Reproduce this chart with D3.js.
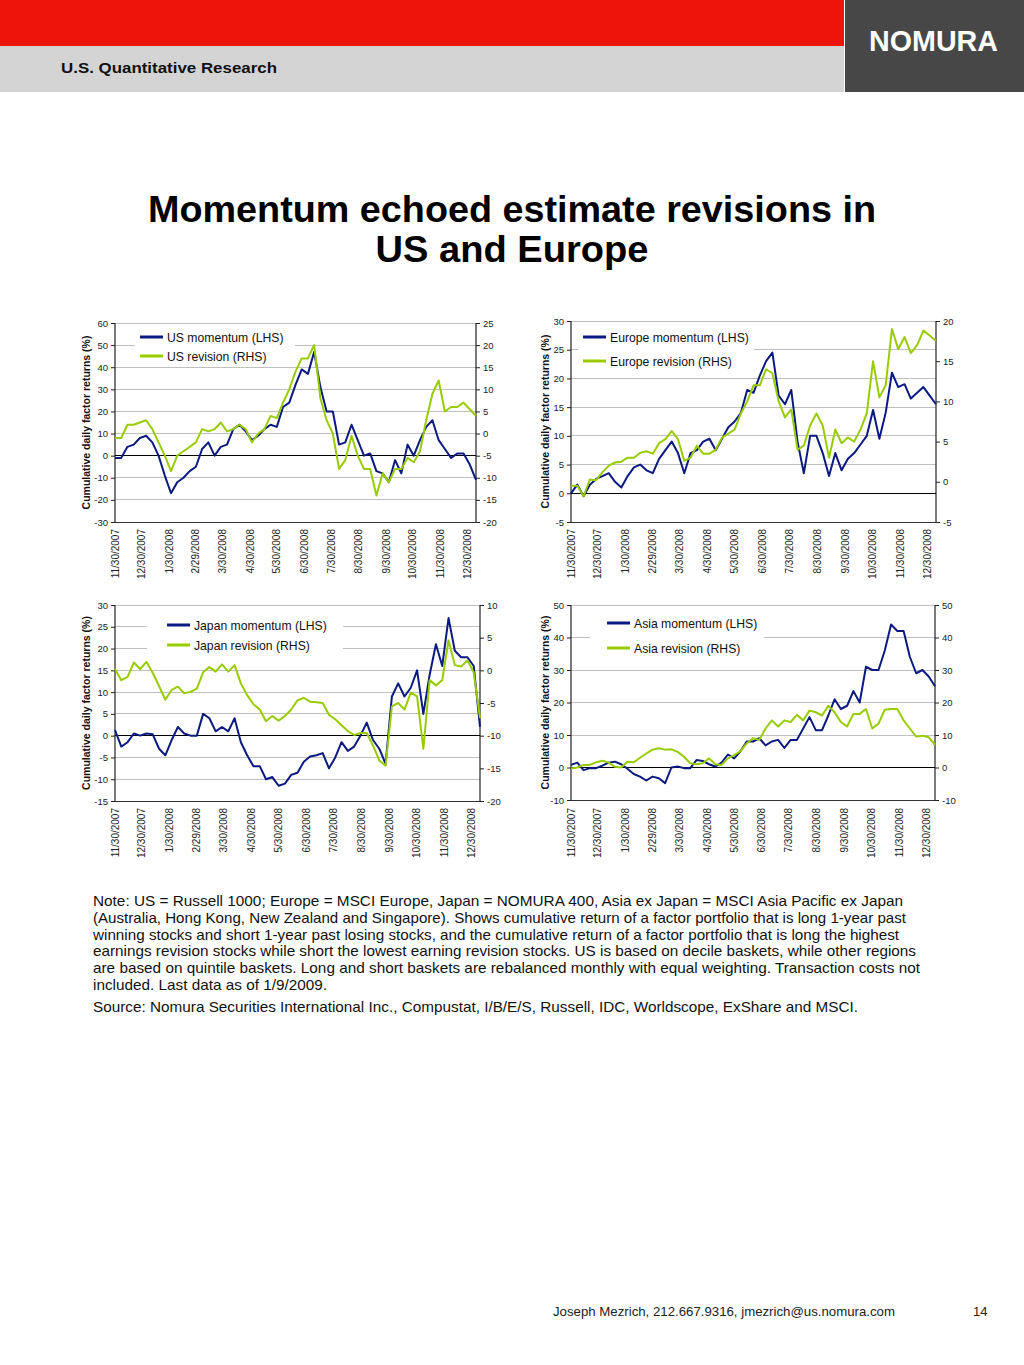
<!DOCTYPE html>
<html>
<head>
<meta charset="utf-8">
<script src="https://cdn.jsdelivr.net/npm/d3@7/dist/d3.min.js"></script>
<style>
  html, body { margin: 0; padding: 0; background: #fff; }
  svg { display: block; }
  text { font-family: "Liberation Sans", Arial, Helvetica, sans-serif; }
</style>
</head>
<body>
<svg id="page" width="1024" height="1365"></svg>
<script>
// ---------------- DATA ----------------
const dates = [
  "2007-11-30","2007-12-07","2007-12-14","2007-12-21","2007-12-28",
  "2008-01-04","2008-01-11","2008-01-18","2008-01-25","2008-02-01",
  "2008-02-08","2008-02-15","2008-02-22","2008-02-29","2008-03-07",
  "2008-03-14","2008-03-21","2008-03-28","2008-04-04","2008-04-11",
  "2008-04-18","2008-04-25","2008-05-02","2008-05-09","2008-05-16",
  "2008-05-23","2008-05-30","2008-06-06","2008-06-13","2008-06-20",
  "2008-06-27","2008-07-04","2008-07-11","2008-07-18","2008-07-25",
  "2008-08-01","2008-08-08","2008-08-15","2008-08-22","2008-08-29",
  "2008-09-05","2008-09-12","2008-09-19","2008-09-26","2008-10-03",
  "2008-10-10","2008-10-17","2008-10-24","2008-10-31","2008-11-07",
  "2008-11-14","2008-11-21","2008-11-28","2008-12-05","2008-12-12",
  "2008-12-19","2008-12-26","2009-01-02","2009-01-09"
];

const dateTickLabels = ["11/30/2007","12/30/2007","1/30/2008","2/29/2008","3/30/2008","4/30/2008",
  "5/30/2008","6/30/2008","7/30/2008","8/30/2008","9/30/2008","10/30/2008","11/30/2008","12/30/2008"];

const usMomentum = [-1,-1,4,5,8,9,6,0,-9,-17,-12,-10,-7,-5,3,6,0,4,5,12,14,11,7,9,12,14,13,22,24,32,39,37,47,31,20,20,5,6,14,7,0,1,-7,-8,-12,-2,-8,5,0,7,13,16,7,3,-1,1,1,-4,-11];
const usRevision = [-1,-1,2,2,2.5,3,1,-2,-5,-8.5,-5,-4,-3,-2,1,0.5,1,2.5,0.5,1,2,1,-2,0,1,4,3.5,7,10,14,17,17,20,8,3,0,-8,-6,-0.5,-5,-8,-8,-14,-9,-11,-8,-8,-5.5,-6.5,-4,3,9,12,5,6,6,7,5.5,4];

const euMomentum = [0,1.5,-0.5,1.5,2.5,3,3.5,2,1,3,4.5,5,4,3.5,6,7.5,9,7,3.5,7,7.5,9,9.5,7.5,9.5,11.5,12.5,14,18,17.5,20.5,23,24.5,17,15.5,18,9,3.5,10,10,7,3,7,4,6,7,8.5,10,14.5,9.5,14,21,18.5,19,16.5,17.5,18.5,17,15.5];
const euRevision = [-0.5,-0.5,-1.8,0.3,0.2,1.2,2,2.4,2.5,3,3,3.6,3.8,3.5,4.8,5.3,6.3,5.3,2.6,3,4.5,3.5,3.5,4,5.5,6,6.5,8.5,10,12,12,14,13.5,10,8,9,4,4.5,7,8.5,7,3,6.5,4.8,5.5,5,6.5,8.5,15,10.5,12,19,16.5,18,16,17,18.8,18.2,17.5];

const jpMomentum = [1.3,-2.5,-1.5,0.5,0,0.5,0.3,-3,-4.5,-1,2,0.5,0,0,5,4,1,2,1,4,-1.5,-4.5,-7,-7,-10,-9.5,-11.5,-11,-9,-8.5,-6,-4.8,-4.5,-4,-7.5,-5,-1.5,-3.5,-2.5,0,3,-1,-3,-6.5,9,12,9,11,15,5,14,21,16,27,19.5,18,18,16,2];
const jpRevision = [0.2,-1.5,-1,1.2,0.2,1.3,-0.4,-2.4,-4.5,-3,-2.5,-3.5,-3.3,-2.8,-0.3,0.5,-0.2,0.9,-0.2,0.8,-2,-3.8,-5.2,-6,-7.8,-7,-7.7,-7,-6,-4.6,-4.2,-4.8,-4.9,-5,-6.8,-7.5,-8.4,-9.3,-9.9,-9.6,-9.6,-11.5,-13.8,-14.6,-5.5,-5,-6,-3.4,-4,-12,-1.5,-2.3,-1.5,4.6,0.8,0.6,1.5,-0.3,-7.3];

const asMomentum = [0.8,1.5,-0.8,-0.2,-0.2,0.6,1.5,1.8,1,-0.4,-2,-2.8,-4,-2.8,-3.3,-4.8,0,0.3,-0.2,-0.2,2.3,2,1,0.3,1.5,4,2.8,5,8,8,9,6.8,8,8.5,6,8.5,8.5,12,15.5,11.5,11.5,16,21,18,19,23.5,20,31,30,30,36,44,42,42,34,29,30,28,25];
const asRevision = [-0.3,0,0.8,0.8,1.6,2.1,1.5,0.2,0,1.8,1.6,3,4.3,5.5,5.9,5.5,5.6,4.8,3.3,1.3,1,1.3,2.8,1,0.8,2.8,3.8,5,7.4,9,8.5,12,14.5,12.6,14.5,14,16.2,14.5,17.5,17,16,19,17,14,12.6,16.5,16.5,18,12,13.5,17.8,18,18,14.5,12,9.5,9.8,9.3,7];

const seriesNames = [
  ["US momentum (LHS)", "US revision (RHS)"],
  ["Europe momentum (LHS)", "Europe revision (RHS)"],
  ["Japan momentum (LHS)", "Japan revision (RHS)"],
  ["Asia momentum (LHS)", "Asia revision (RHS)"]
];

const noteLines = [
  "Note: US = Russell 1000; Europe = MSCI Europe, Japan = NOMURA 400, Asia ex Japan = MSCI Asia Pacific ex Japan",
  "(Australia, Hong Kong, New Zealand and Singapore). Shows cumulative return of a factor portfolio that is long 1-year past",
  "winning stocks and short 1-year past losing stocks, and the cumulative return of a factor portfolio that is long the highest",
  "earnings revision stocks while short the lowest earning revision stocks. US is based on decile baskets, while other regions",
  "are based on quintile baskets. Long and short baskets are rebalanced monthly with equal weighting. Transaction costs not",
  "included. Last data as of 1/9/2009."
];
const sourceLine = "Source: Nomura Securities International Inc., Compustat, I/B/E/S, Russell, IDC, Worldscope, ExShare and MSCI.";

// ---------------- STYLE / LAYOUT ----------------
const NAVY = "#0b1a80", GREEN = "#99cc00", GRID = "#c0c0c0";
const parseISO = d3.timeParse("%Y-%m-%d");
const parseTick = d3.timeParse("%m/%d/%Y");
const dateObjs = dates.map(parseISO);

const noteWidths = [810, 813, 806, 823, 827, 234];

const panels = [
  { mom: usMomentum, rev: usRevision, names: seriesNames[0],
    x0: 115, x1: 476, y0: 323, y1: 522, lDom: [-30, 60], lStep: 10, rDom: [-20, 25], rStep: 5,
    legX: 140, legY: [337, 356], box: [135, 327, 160, 39], titleX: 86, dateY: 529 },
  { mom: euMomentum, rev: euRevision, names: seriesNames[1],
    x0: 571, x1: 936, y0: 321, y1: 522, lDom: [-5, 30], lStep: 5, rDom: [-5, 20], rStep: 5,
    legX: 583, legY: [337, 361], box: [578, 326, 176, 46], titleX: 545, dateY: 529 },
  { mom: jpMomentum, rev: jpRevision, names: seriesNames[2],
    x0: 115, x1: 480, y0: 605, y1: 801, lDom: [-15, 30], lStep: 5, rDom: [-20, 10], rStep: 5,
    legX: 167, legY: [625, 645], box: [147, 613, 196, 43], titleX: 86, dateY: 808 },
  { mom: asMomentum, rev: asRevision, names: seriesNames[3],
    x0: 571, x1: 935, y0: 605, y1: 800, lDom: [-10, 50], lStep: 10, rDom: [-10, 50], rStep: 10,
    legX: 607, legY: [623, 648], box: [590, 611, 174, 49], titleX: 545, dateY: 808 }
];

const svg = d3.select("#page");
svg.append("rect").attr("width", 1024).attr("height", 1365).attr("fill", "#fff");

// ---------------- HEADER ----------------
svg.append("rect").attr("x", 0).attr("y", 0).attr("width", 844).attr("height", 46).attr("fill", "#ee140c");
svg.append("rect").attr("x", 0).attr("y", 46).attr("width", 844).attr("height", 46).attr("fill", "#d4d4d4");
svg.append("rect").attr("x", 845).attr("y", 0).attr("width", 179).attr("height", 92).attr("fill", "#474747");
svg.append("text").attr("x", 61).attr("y", 73).attr("font-size", 15.5).attr("font-weight", "bold")
  .attr("fill", "#111").attr("textLength", 216).attr("lengthAdjust", "spacingAndGlyphs")
  .text("U.S. Quantitative Research");
svg.append("text").attr("x", 869).attr("y", 51).attr("font-size", 30).attr("font-weight", "bold")
  .attr("fill", "#fff").attr("textLength", 129).attr("lengthAdjust", "spacingAndGlyphs").text("NOMURA");

// ---------------- TITLE ----------------
svg.append("text").attr("x", 512).attr("y", 222).attr("text-anchor", "middle")
  .attr("font-size", 36).attr("font-weight", "bold").attr("fill", "#000")
  .attr("textLength", 728).attr("lengthAdjust", "spacingAndGlyphs")
  .text("Momentum echoed estimate revisions in");
svg.append("text").attr("x", 512).attr("y", 262).attr("text-anchor", "middle")
  .attr("font-size", 36).attr("font-weight", "bold").attr("fill", "#000")
  .attr("textLength", 273).attr("lengthAdjust", "spacingAndGlyphs")
  .text("US and Europe");

// ---------------- CHARTS ----------------
const fmt = d => String(d);
panels.forEach(p => {
  const g = svg.append("g");
  const x = d3.scaleTime().domain([parseISO(dates[0]), parseISO(dates[dates.length - 1])]).range([p.x0, p.x1]);
  const yL = d3.scaleLinear().domain(p.lDom).range([p.y1, p.y0]);
  const yR = d3.scaleLinear().domain(p.rDom).range([p.y1, p.y0]);
  const lTicks = d3.range(p.lDom[0], p.lDom[1] + 0.001, p.lStep);
  const rTicks = d3.range(p.rDom[0], p.rDom[1] + 0.001, p.rStep);

  // gridlines
  g.selectAll(".grid").data(lTicks.filter(v => v !== 0)).enter().append("line")
    .attr("x1", p.x0).attr("x2", p.x1).attr("y1", d => yL(d)).attr("y2", d => yL(d))
    .attr("stroke", GRID).attr("stroke-width", 1).attr("shape-rendering", "crispEdges");
  // bottom border
  g.append("line").attr("x1", p.x0).attr("x2", p.x1).attr("y1", p.y1).attr("y2", p.y1)
    .attr("stroke", "#333").attr("stroke-width", 1).attr("shape-rendering", "crispEdges");

  // axes
  const axL = d3.axisLeft(yL).tickValues(lTicks).tickSize(4).tickPadding(3).tickFormat(fmt);
  const gL = g.append("g").attr("transform", `translate(${p.x0},0)`).call(axL);
  const axR = d3.axisRight(yR).tickValues(rTicks).tickSize(4).tickPadding(3).tickFormat(fmt);
  const gR = g.append("g").attr("transform", `translate(${p.x1},0)`).call(axR);
  [gL, gR].forEach(a => {
    a.select(".domain").attr("stroke", "#222").attr("d", null);
    a.selectAll("text").attr("font-size", 9.5).attr("fill", "#222")
      .attr("font-family", '"Liberation Sans", Arial, sans-serif');
    a.selectAll("line").attr("stroke", "#222");
    a.append("line").attr("x1", 0).attr("x2", 0).attr("y1", p.y0).attr("y2", p.y1)
      .attr("stroke", "#222").attr("stroke-width", 1.2);
  });

  // date labels (rotated)
  g.selectAll(".dl").data(dateTickLabels).enter().append("text")
    .attr("transform", d => `translate(${x(parseTick(d)) + 3.5},${p.dateY}) rotate(-90)`)
    .attr("text-anchor", "end").attr("font-size", 10).attr("fill", "#222").text(d => d);

  // y title
  g.append("text").attr("transform", `translate(${p.titleX + 4},${(p.y0 + p.y1) / 2}) rotate(-90)`)
    .attr("text-anchor", "middle").attr("font-size", 10.5).attr("font-weight", "bold").attr("fill", "#111")
    .text("Cumulative daily factor returns (%)");

  // zero line
  g.append("line").attr("x1", p.x0).attr("x2", p.x1).attr("y1", yL(0)).attr("y2", yL(0))
    .attr("stroke", "#000").attr("stroke-width", 1).attr("shape-rendering", "crispEdges");

  // lines
  const momLine = d3.line().x((d, i) => x(dateObjs[i])).y(d => yL(d));
  const revLine = d3.line().x((d, i) => x(dateObjs[i])).y(d => yR(d));
  g.append("path").attr("d", momLine(p.mom)).attr("fill", "none").attr("stroke", NAVY)
    .attr("stroke-width", 2).attr("stroke-linejoin", "round");
  g.append("path").attr("d", revLine(p.rev)).attr("fill", "none").attr("stroke", GREEN)
    .attr("stroke-width", 2).attr("stroke-linejoin", "round");

  // legend
  g.append("rect").attr("x", p.box[0]).attr("y", p.box[1]).attr("width", p.box[2]).attr("height", p.box[3]).attr("fill", "#fff");
  [NAVY, GREEN].forEach((c, i) => {
    g.append("line").attr("x1", p.legX).attr("x2", p.legX + 23).attr("y1", p.legY[i]).attr("y2", p.legY[i])
      .attr("stroke", c).attr("stroke-width", 3);
    g.append("text").attr("x", p.legX + 27).attr("y", p.legY[i] + 4.5).attr("font-size", 12.2).attr("fill", "#111")
      .text(p.names[i]);
  });
});

// ---------------- NOTES ----------------
noteLines.forEach((t, i) => {
  svg.append("text").attr("x", 93).attr("y", 906 + i * 16.75).attr("font-size", 15).attr("fill", "#111")
    .attr("textLength", noteWidths[i]).attr("lengthAdjust", "spacingAndGlyphs").text(t);
});
svg.append("text").attr("x", 93).attr("y", 1012).attr("font-size", 15).attr("fill", "#111")
  .attr("textLength", 765).attr("lengthAdjust", "spacingAndGlyphs").text(sourceLine);

// ---------------- FOOTER ----------------
svg.append("text").attr("x", 553).attr("y", 1316).attr("font-size", 13).attr("fill", "#222")
  .attr("textLength", 342).attr("lengthAdjust", "spacingAndGlyphs")
  .text("Joseph Mezrich, 212.667.9316, jmezrich@us.nomura.com");
svg.append("text").attr("x", 973).attr("y", 1316).attr("font-size", 13).attr("fill", "#222").text("14");
</script>
</body>
</html>
